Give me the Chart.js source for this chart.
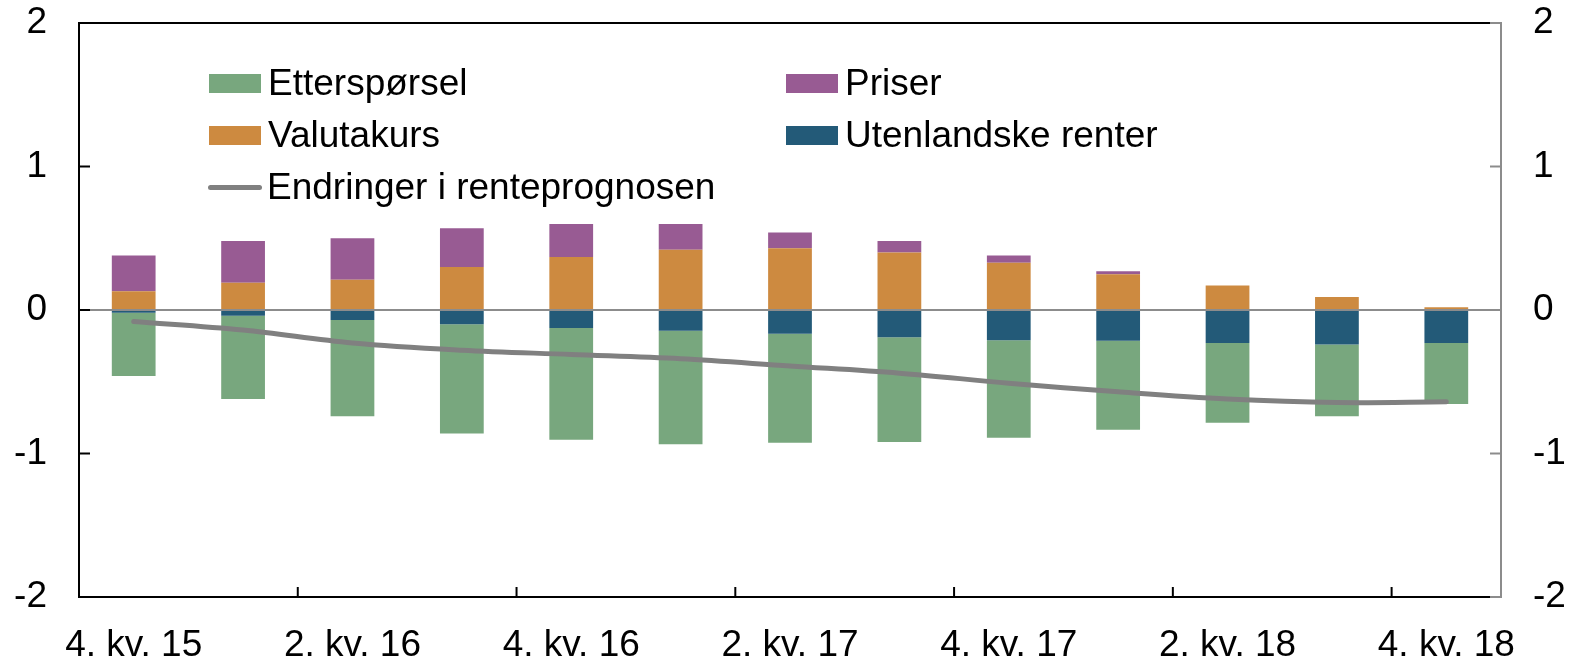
<!DOCTYPE html>
<html>
<head>
<meta charset="utf-8">
<script src="https://cdn.jsdelivr.net/npm/chart.js@4.4.1/dist/chart.umd.min.js"></script>
<style>
  body { margin: 0; background: #fff; }
  #wrap { position: relative; width: 1576px; height: 657px; overflow: hidden; }
  #legend { position: absolute; left: 0; top: 0; font-family: "Liberation Sans", Arial, sans-serif; font-size: 37px; color: #000; }
  .item { position: absolute; height: 40px; display: flex; align-items: center; white-space: nowrap; }
  .box { width: 52px; height: 19px; margin-right: 7px; }
  .ln { width: 54px; height: 5px; border-radius: 3px; background: #808080; margin-right: 5px; }
</style>
</head>
<body>
<div id="wrap">
  <canvas id="chart" width="1576" height="657"></canvas>
  <div id="legend">
    <div class="item" style="left:209px; top:63px;"><span class="box" style="background:#78a77e"></span>Etterspørsel</div>
    <div class="item" style="left:786px; top:63px;"><span class="box" style="background:#985b93"></span>Priser</div>
    <div class="item" style="left:209px; top:115px;"><span class="box" style="background:#cd8a40"></span>Valutakurs</div>
    <div class="item" style="left:786px; top:115px;"><span class="box" style="background:#235a78"></span>Utenlandske renter</div>
    <div class="item" style="left:208px; top:167px;"><span class="ln"></span>Endringer i renteprognosen</div>
  </div>
</div>
<script>
// DATA
var quarters = ['4. kv. 15', '1. kv. 16', '2. kv. 16', '3. kv. 16', '4. kv. 16', '1. kv. 17', '2. kv. 17',
                '3. kv. 17', '4. kv. 17', '1. kv. 18', '2. kv. 18', '3. kv. 18', '4. kv. 18'];
var etterspørsel = [-0.44, -0.58, -0.67, -0.76, -0.78, -0.79, -0.76, -0.73, -0.68, -0.62, -0.555, -0.50, -0.425];
var valutakurs   = [0.13, 0.19, 0.21, 0.30, 0.37, 0.42, 0.43, 0.40, 0.33, 0.25, 0.17, 0.09, 0.02];
var priser       = [0.25, 0.29, 0.29, 0.27, 0.23, 0.18, 0.11, 0.08, 0.05, 0.02, 0, 0, 0];
var utlRenter    = [-0.02, -0.04, -0.07, -0.10, -0.125, -0.145, -0.165, -0.19, -0.21, -0.215, -0.23, -0.24, -0.23];
var renteprognose = [-0.08, -0.14, -0.23, -0.28, -0.31, -0.34, -0.39, -0.44, -0.51, -0.57, -0.62, -0.645, -0.64];
var yTicks = [-2, -1, 0, 1, 2];

var FONT = { family: '"Liberation Sans", Arial, sans-serif', size: 37 };

// frame, zero line and inward tick marks
var framePlugin = {
    id: 'frame',
    afterDatasetsDraw: function(chart) {
        var ctx = chart.ctx;
        var a = chart.chartArea;
        var x = chart.scales.x, y = chart.scales.y;
        ctx.save();
        // zero line
        var y0 = y.getPixelForValue(0);
        ctx.strokeStyle = '#8c8c8c';
        ctx.lineWidth = 2;
        ctx.beginPath(); ctx.moveTo(a.left, y0); ctx.lineTo(a.right, y0); ctx.stroke();
        // top border
        ctx.strokeStyle = '#000';
        ctx.beginPath(); ctx.moveTo(a.left, a.top); ctx.lineTo(a.right, a.top); ctx.stroke();
        // left ticks
        yTicks.forEach(function(v) {
            var p = y.getPixelForValue(v);
            ctx.strokeStyle = '#000';
            ctx.beginPath(); ctx.moveTo(a.left, p); ctx.lineTo(a.left + 11, p); ctx.stroke();
            ctx.strokeStyle = '#8c8c8c';
            ctx.beginPath(); ctx.moveTo(a.right, p); ctx.lineTo(a.right - 11, p); ctx.stroke();
        });
        // x ticks between categories
        ctx.strokeStyle = '#000';
        for (var i = 2; i < quarters.length; i += 2) {
            var px = (x.getPixelForValue(i - 1) + x.getPixelForValue(i)) / 2;
            ctx.beginPath(); ctx.moveTo(px, a.bottom); ctx.lineTo(px, a.bottom - 10); ctx.stroke();
        }
        ctx.restore();
    }
};

function noPad(s) { s.paddingTop = 0; s.paddingBottom = 0; }

var chart;
function loadChart() {
    var context = document.getElementById('chart').getContext('2d');
    chart = new Chart(context, {
        data: {
            labels: quarters,
            datasets: [
                { type: 'line', label: 'Endringer i renteprognosen', data: renteprognose,
                  borderColor: '#808080', borderWidth: 5, pointRadius: 0, tension: 0.35,
                  borderCapStyle: 'round', order: 0 },
                { type: 'bar', label: 'Valutakurs', data: valutakurs, backgroundColor: '#cd8a40', order: 1 },
                { type: 'bar', label: 'Utenlandske renter', data: utlRenter, backgroundColor: '#235a78', order: 1 },
                { type: 'bar', label: 'Priser', data: priser, backgroundColor: '#985b93', order: 1 },
                { type: 'bar', label: 'Etterspørsel', data: etterspørsel, backgroundColor: '#78a77e', order: 1 }
            ]
        },
        options: {
            responsive: false,
            animation: false,
            devicePixelRatio: 1,
            layout: { padding: { top: 23, bottom: 0, left: 0, right: 0 } },
            datasets: { bar: { barPercentage: 0.4, categoryPercentage: 1.0, stack: 'a' } },
            plugins: { legend: { display: false }, tooltip: { enabled: false } },
            scales: {
                x: {
                    stacked: true,
                    offset: true,
                    grid: { display: false, drawTicks: false },
                    border: { display: true, color: '#000', width: 2 },
                    ticks: {
                        autoSkip: false, maxRotation: 0, padding: 27,
                        color: '#000', font: FONT,
                        callback: function(v, i) { return i % 2 === 0 ? quarters[i] : ''; }
                    },
                    afterFit: function(s) { s.height = 60; s.paddingLeft = 0; s.paddingRight = 0; }
                },
                y: {
                    stacked: true,
                    min: -2, max: 2,
                    position: 'left',
                    grid: { display: false, drawTicks: false },
                    border: { display: true, color: '#000', width: 2 },
                    ticks: { stepSize: 1, padding: 32, color: '#000', font: FONT },
                    afterFit: function(s) { s.width = 79; noPad(s); }
                },
                y2: {
                    min: -2, max: 2,
                    position: 'right',
                    grid: { display: false, drawTicks: false },
                    border: { display: true, color: '#8c8c8c', width: 2 },
                    ticks: { stepSize: 1, padding: 32, color: '#000', font: FONT },
                    afterFit: function(s) { s.width = 75; noPad(s); }
                }
            }
        },
        plugins: [framePlugin]
    });
}

loadChart();
</script>
</body>
</html>
